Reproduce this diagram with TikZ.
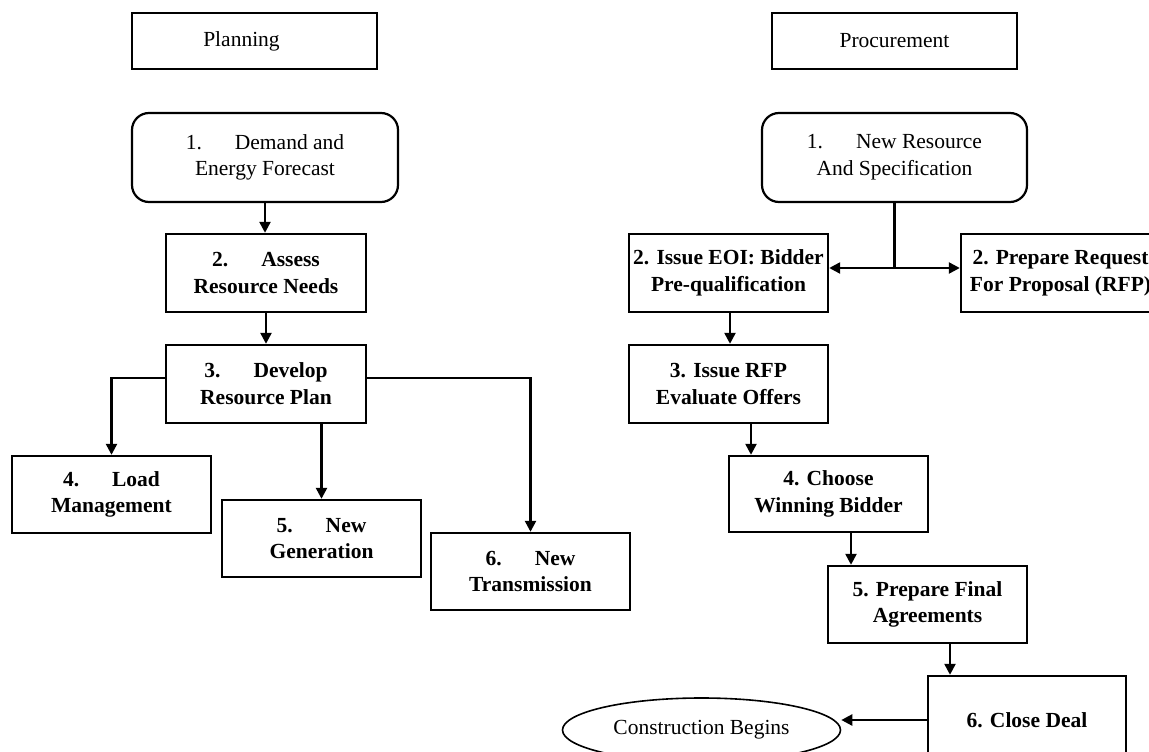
\documentclass[tikz,border=0pt]{standalone}
\usepackage{fontspec}
\setmainfont{Liberation Serif}
\usetikzlibrary{arrows.meta,shapes.geometric}
\tikzset{
  box/.style={draw, line width=2.4pt, rectangle, align=center, inner sep=2pt,
    font=\fontsize{21.5}{26.7}\selectfont\bfseries},
  plainbox/.style={draw, line width=2.2pt, rectangle, align=center, inner sep=2pt,
    font=\fontsize{21.5}{26.7}\selectfont},
  roundbox/.style={plainbox, rounded corners=17pt},
  ellbox/.style={draw, line width=1.6pt, ellipse, inner sep=0pt,
    font=\fontsize{21.5}{26.7}\selectfont},
  arr/.style={line width=2.4pt, -{Triangle[length=11pt,width=11pt]}},
  ln/.style={line width=2.4pt}
}
\begin{document}
\begin{tikzpicture}[x=1pt,y=-1pt]
\clip (0,0) rectangle (1149,752);
\fill[white] (0,0) rectangle (1149,752);
% Planning column
\node[plainbox, minimum width=245pt, minimum height=56pt] (plan) at (254.5,41) {Planning\hspace{26pt}};
\node[roundbox, minimum width=266pt, minimum height=89pt] (dem) at (265,157.5) {1.\hspace{33pt}Demand and\\Energy Forecast};
\node[box, minimum width=200pt, minimum height=78pt] (ass) at (266,273) {2.\hspace{33pt}Assess\\Resource Needs};
\node[box, minimum width=200pt, minimum height=78pt] (dev) at (266,384) {3.\hspace{33pt}Develop\\Resource Plan};
\node[box, minimum width=199pt, minimum height=77pt] (load) at (111.5,494.5) {4.\hspace{33pt}Load\\Management};
\node[box, minimum width=199pt, minimum height=77pt] (gen) at (321.5,538.5) {5.\hspace{33pt}New\\Generation};
\node[box, minimum width=199pt, minimum height=77pt] (trans) at (530.5,571.5) {6.\hspace{33pt}New\\Transmission};
% Procurement column
\node[plainbox, minimum width=245pt, minimum height=56pt] (proc) at (894.5,41) {Procurement};
\node[roundbox, minimum width=265pt, minimum height=89pt] (nr) at (894.5,157.5) {1.\hspace{33pt}New Resource\\And Specification};
\node[box, minimum width=199pt, minimum height=78pt] (eoi) at (728.5,273) {2. Issue EOI: Bidder\\Pre-qualification};
\node[box, minimum width=199pt, minimum height=78pt] (rfp) at (1060.5,273) {2. Prepare Request\\For Proposal (RFP)};
\node[box, minimum width=199pt, minimum height=78pt] (issue) at (728.5,384) {3. Issue RFP\\Evaluate Offers};
\node[box, minimum width=199pt, minimum height=76pt] (choose) at (828.5,494) {4. Choose\\Winning Bidder};
\node[box, minimum width=199pt, minimum height=77pt] (final) at (927.5,604.5) {5. Prepare Final\\Agreements};
\node[box, minimum width=198pt, minimum height=88pt] (close) at (1027,720) {6. Close Deal};
\node[ellbox, minimum width=278pt, minimum height=64pt] (ell) at (701.5,730) {Construction Begins};
% Planning connectors
\draw[arr] (dem.south) -- (dem.south |- ass.north);
\draw[arr] (ass.south) -- (dev.north);
\draw[arr] ([yshift=6pt]dev.west) -| (load.north);
\draw[arr] (dev.south -| gen.north) -- (gen.north);
\draw[arr] ([yshift=6pt]dev.east) -| (trans.north);
% Procurement connectors
\coordinate (split) at (894.5,268);
\draw[ln] (nr.south) -- (split);
\draw[arr] (split) -- (split -| eoi.east);
\draw[arr] (split) -- (split -| rfp.west);
\draw[arr] ([xshift=1.5pt]eoi.south) -- ([xshift=1.5pt]eoi.south |- issue.north);
\draw[arr] ([xshift=22.5pt]issue.south) -- ([xshift=22.5pt]issue.south |- choose.north);
\draw[arr] ([xshift=22.5pt]choose.south) -- ([xshift=22.5pt]choose.south |- final.north);
\draw[arr] ([xshift=22.5pt]final.south) -- ([xshift=22.5pt]final.south |- close.north);
\draw[arr] (close.west) -- (close.west -| ell.east);
\end{tikzpicture}
\end{document}
